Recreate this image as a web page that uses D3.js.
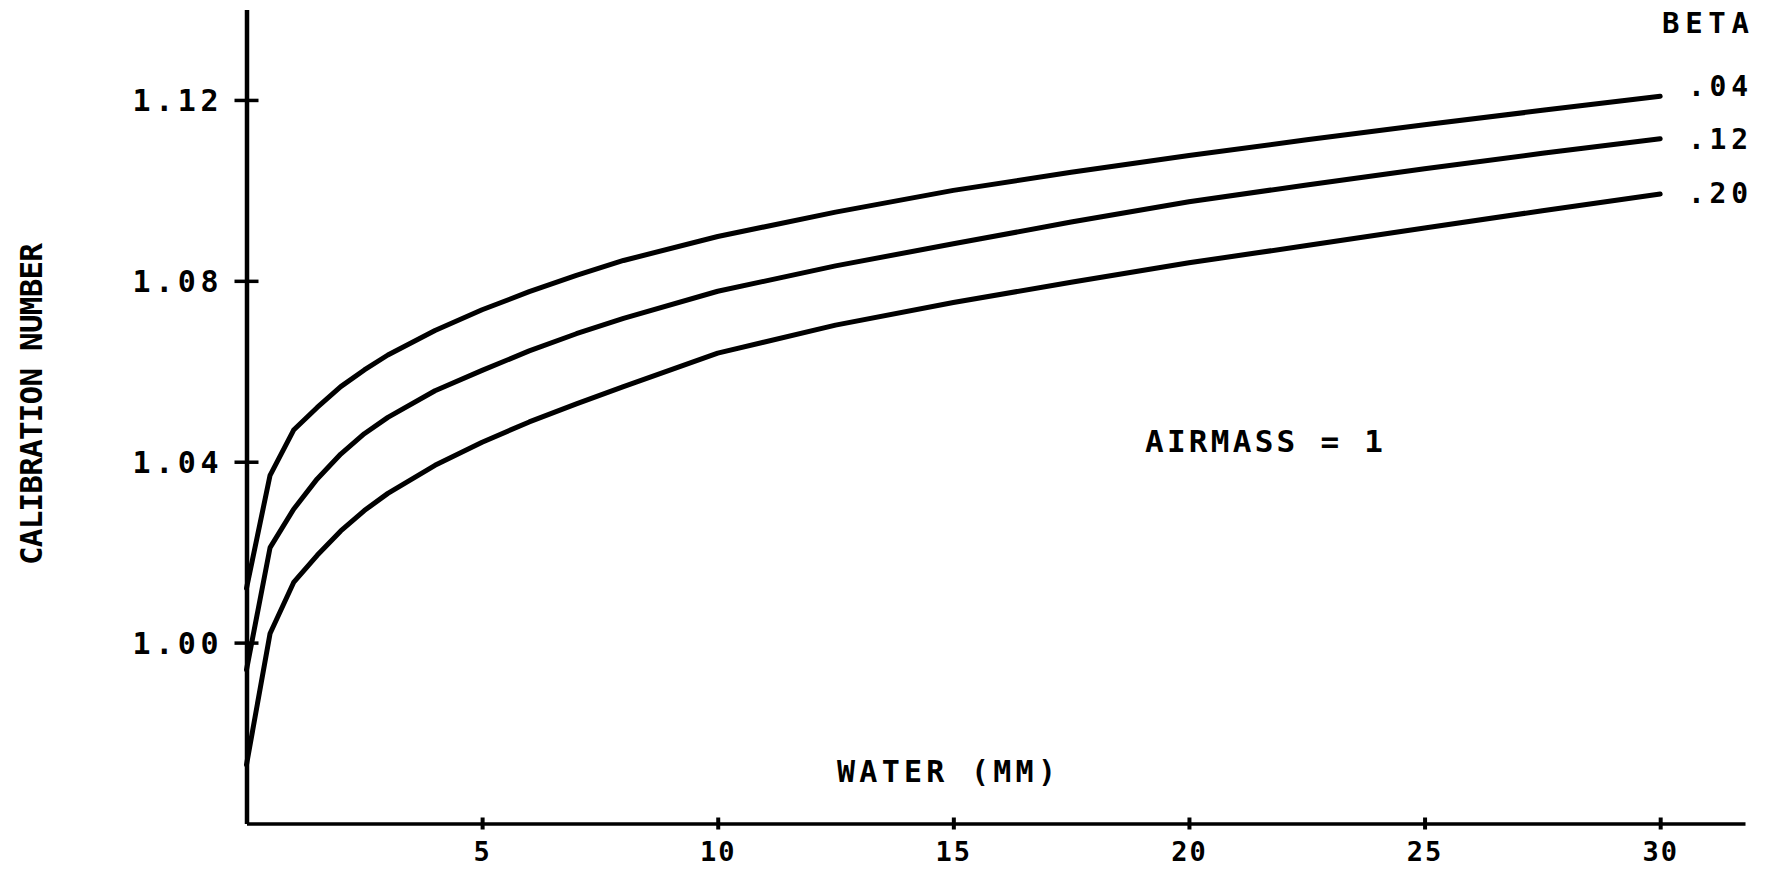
<!DOCTYPE html>
<html><head><meta charset="utf-8">
<script src="https://cdn.jsdelivr.net/npm/d3@7"></script>
<style>
html,body{margin:0;padding:0;background:#fff;}
svg{display:block;background:#fff;}
text{font-family:"DejaVu Sans Mono","Liberation Mono",monospace;font-weight:bold;fill:#000;}
</style></head><body>
<svg id="chart" width="1765" height="869"></svg>
<script>
// Water vapour (mm) sample points
const water  = [0, 0.5, 1, 1.5, 2, 2.5, 3, 4, 5, 6, 7, 8, 10, 12.5, 15, 17.5, 20, 22.5, 25, 27.5, 30];
// Calibration number for each beta
const beta04 = [1.012, 1.037, 1.047, 1.052, 1.0566, 1.0603, 1.0636, 1.0690, 1.0736, 1.0776, 1.0812, 1.0845, 1.0898, 1.0952, 1.1000, 1.1040, 1.1077, 1.1112, 1.1145, 1.1177, 1.1208];
const beta12 = [0.994, 1.021, 1.0295, 1.0362, 1.0417, 1.0462, 1.0498, 1.0557, 1.0602, 1.0645, 1.0683, 1.0717, 1.0777, 1.0833, 1.0882, 1.0930, 1.0975, 1.1012, 1.1048, 1.1082, 1.1114];
const beta20 = [0.973, 1.002, 1.0133, 1.0193, 1.0247, 1.0292, 1.0330, 1.0392, 1.0443, 1.0488, 1.0528, 1.0566, 1.0640, 1.0702, 1.0752, 1.0797, 1.0840, 1.0878, 1.0917, 1.0955, 1.0992];
const seriesLabels = [".04", ".12", ".20"];
const xTicks = [5, 10, 15, 20, 25, 30];
const xTickLabels = ["5", "10", "15", "20", "25", "30"];
const yTicks = [1.00, 1.04, 1.08, 1.12];
const yTickLabels = ["1.00", "1.04", "1.08", "1.12"];

const svg = d3.select("#chart");
const x = d3.scaleLinear().domain([0, 31.8]).range([246.5, 1745]);
const y = d3.scaleLinear().domain([0.96, 1.14]).range([823.5, 9.5]);

// Y axis
const yAxis = svg.append("g").attr("transform", `translate(${x(0)},0)`)
  .call(d3.axisLeft(y).tickValues(yTicks).tickSizeOuter(0).tickSize(0).tickPadding(28)
        .tickFormat((d, i) => yTickLabels[i]));
yAxis.select(".domain").attr("stroke", "#000").attr("stroke-width", 4.5);
yAxis.selectAll(".tick line").attr("x1", -12).attr("x2", 12).attr("stroke", "#000").attr("stroke-width", 3.5);
yAxis.selectAll(".tick text").attr("font-size", 30).attr("dy", "0.36em")
  .attr("textLength", 86).attr("lengthAdjust", "spacing").attr("fill", "#000")
  .style("font-family", '"DejaVu Sans Mono", monospace').style("font-weight", "bold");

// X axis
const xAxis = svg.append("g").attr("transform", `translate(0,${y(0.96)})`)
  .call(d3.axisBottom(x).tickValues(xTicks).tickSizeOuter(0).tickSize(0).tickPadding(18)
        .tickFormat((d, i) => xTickLabels[i]));
xAxis.select(".domain").attr("stroke", "#000").attr("stroke-width", 3.5);
xAxis.selectAll(".tick line").attr("y1", -6).attr("y2", 6).attr("stroke", "#000").attr("stroke-width", 4);
xAxis.selectAll(".tick text").attr("font-size", 27).attr("fill", "#000")
  .style("font-family", '"DejaVu Sans Mono", monospace').style("font-weight", "bold")
  .style("letter-spacing", "2px");

// Curves
const series = [beta04, beta12, beta20];
const line = d3.line().x((d, i) => x(water[i])).y(d => y(d)).curve(d3.curveLinear);
svg.append("g").selectAll("path").data(series).join("path")
  .attr("d", d => line(d))
  .attr("fill", "none").attr("stroke", "#000").attr("stroke-width", 5)
  .attr("stroke-linejoin", "round").attr("stroke-linecap", "round");

// Series labels
const labelDy = [0, 10, 9];
svg.append("g").selectAll("text").data(series).join("text")
  .attr("x", 1688).attr("y", (d, i) => y(d[d.length - 1]) + labelDy[i])
  .attr("font-size", 28).attr("textLength", 60).attr("lengthAdjust", "spacing")
  .text((d, i) => seriesLabels[i]);

svg.append("text").attr("x", 1662).attr("y", 33).attr("font-size", 29)
  .attr("textLength", 87).attr("lengthAdjust", "spacing").text("BETA");

svg.append("text").attr("x", 837).attr("y", 782).attr("font-size", 30)
  .attr("textLength", 219).attr("lengthAdjust", "spacing").text("WATER (MM)");

svg.append("text").attr("x", 1145).attr("y", 452).attr("font-size", 31)
  .attr("textLength", 238).attr("lengthAdjust", "spacing").text("AIRMASS = 1");

svg.append("text").attr("transform", "translate(42,404) rotate(-90)")
  .attr("text-anchor", "middle").attr("font-size", 31)
  .attr("textLength", 322).attr("lengthAdjust", "spacing").text("CALIBRATION NUMBER");
</script>
</body></html>
